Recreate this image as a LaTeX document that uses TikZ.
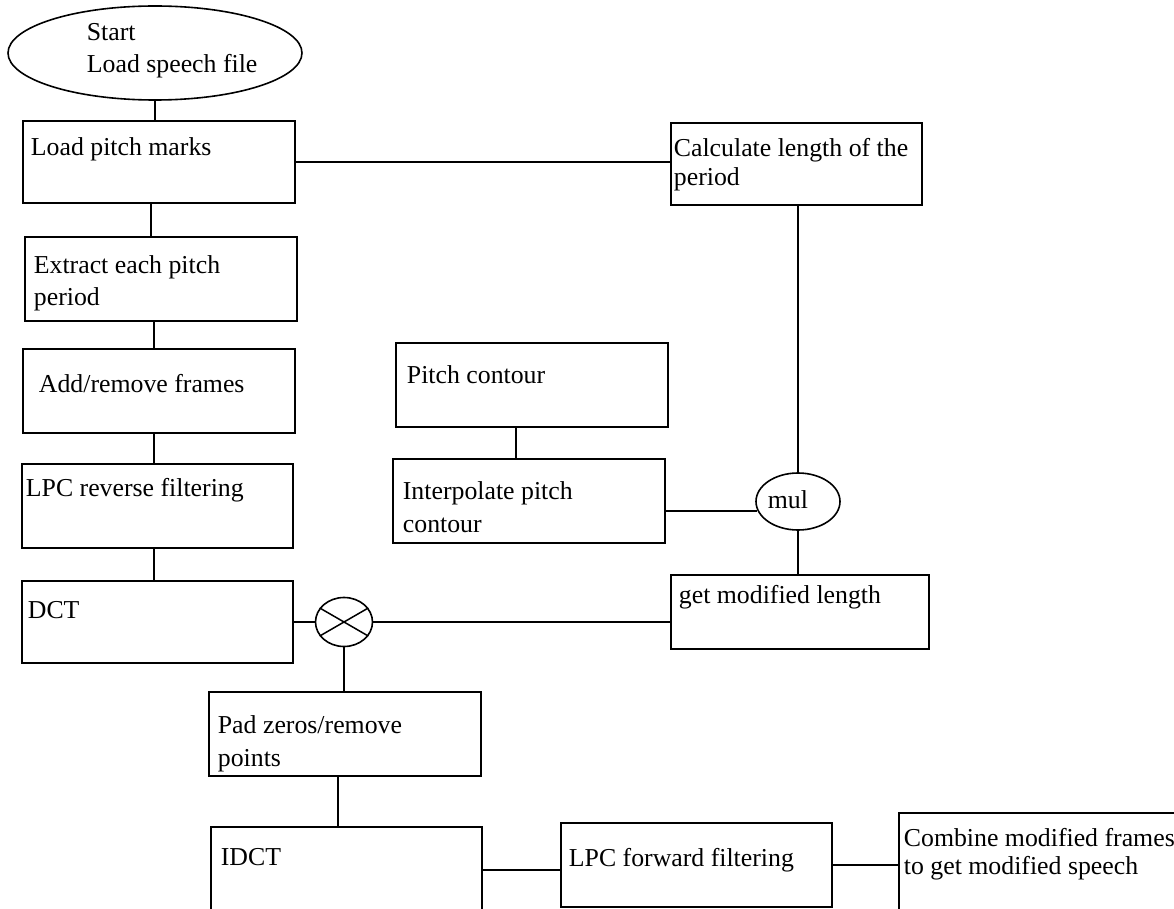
\documentclass[tikz,border=0pt]{standalone}
\usepackage{fontspec}
\setmainfont{Liberation Serif}
\usetikzlibrary{shapes.geometric}
\begin{document}
\begin{tikzpicture}[x=1pt,y=-1pt,line width=1.8pt,
  box/.style={draw, rectangle, inner sep=0pt, line width=1.8pt},
  oval/.style={draw, ellipse, inner sep=0pt, line width=1.6pt},
  lbl/.style={anchor=base west, inner sep=0pt, font=\fontsize{25.8}{28}\selectfont},
  conn/.style={draw, line width=1.8pt}]
\useasboundingbox (0,0) rectangle (1174,909);
\clip (0,0) rectangle (1174,909);
% ---- shapes
\node[oval, minimum width=294pt, minimum height=94pt] (start) at (155,53) {};
\node[box, minimum width=272pt, minimum height=82pt] (load) at (159,162) {};
\node[box, minimum width=251pt, minimum height=82pt] (calc) at (796.5,164) {};
\node[box, minimum width=272pt, minimum height=84pt] (extract) at (161,279) {};
\node[box, minimum width=272pt, minimum height=84pt] (add) at (159,391) {};
\node[box, minimum width=271pt, minimum height=84pt] (lpcrev) at (157.5,506) {};
\node[box, minimum width=271pt, minimum height=82pt] (dct) at (157.5,622) {};
\node[box, minimum width=272pt, minimum height=84pt] (pitch) at (532,385) {};
\node[box, minimum width=272pt, minimum height=84pt] (interp) at (529,501) {};
\node[oval, minimum width=84pt, minimum height=57pt] (mul) at (798,501.5) {};
\node[box, minimum width=258pt, minimum height=74pt] (getmod) at (800,612) {};
\node[oval, minimum width=57pt, minimum height=49pt] (xc) at (344,622) {};
\node[box, minimum width=272pt, minimum height=84pt] (pad) at (345,734) {};
\node[box, minimum width=271pt, minimum height=86pt] (idct) at (346.5,870) {};
\node[box, minimum width=271pt, minimum height=84pt] (lpcfwd) at (696.5,865) {};
\node[box, minimum width=280pt, minimum height=100pt] (combine) at (1039,863) {};
% cross inside the summing circle
\draw[line width=1.5pt] (xc.150) -- (xc.-30);
\draw[line width=1.5pt] (xc.210) -- (xc.30);
% ---- labels
\node[lbl] (tstart1) at (86,41) {Start};
\node[lbl] (tstart2) at (86,73) {Load speech file};
\node[lbl] (tload) at (30,156) {Load pitch marks};
\node[lbl] (tcalc1) at (673,157) {Calculate length of the};
\node[lbl] (tcalc2) at (673,186) {period};
\node[lbl] (text1) at (33,273) {Extract each pitch};
\node[lbl] (text2) at (33,305) {period};
\node[lbl] (tadd) at (38,392) {Add/remove frames};
\node[lbl] (tlpcrev) at (25,496) {LPC reverse filtering};
\node[lbl] (tdct) at (27,618) {DCT};
\node[lbl] (tpitch) at (406,383) {Pitch contour};
\node[lbl] (tinterp1) at (402,499) {Interpolate pitch};
\node[lbl] (tinterp2) at (402,532) {contour};
\node[lbl] (tmul) at (767,508) {mul};
\node[lbl] (tgetmod) at (678,603) {get modified length};
\node[lbl] (tpad1) at (217,733) {Pad zeros/remove};
\node[lbl] (tpad2) at (217,766) {points};
\node[lbl] (tidct) at (220,865) {IDCT};
\node[lbl] (tlpcfwd) at (568,866) {LPC forward filtering};
\node[lbl] (tcomb1) at (903,846) {Combine modified frames};
\node[lbl] (tcomb2) at (903,874) {to get modified speech};
% ---- connectors
\draw[conn] (start.south) -- (start.south |- load.north);
\draw[conn] (load.east) -- (load.east -| calc.west);
\draw[conn] (load.south -| 151,0) -- (extract.north -| 151,0);
\draw[conn] (extract.south -| 154,0) -- (add.north -| 154,0);
\draw[conn] (add.south -| 154,0) -- (lpcrev.north -| 154,0);
\draw[conn] (lpcrev.south -| 154,0) -- (dct.north -| 154,0);
\draw[conn] (dct.east) -- (dct.east -| xc.west);
\draw[conn] (xc.east) -- (xc.east -| getmod.west);
\draw[conn] (xc.south) -- (xc.south |- pad.north);
\draw[conn] (pad.south -| 338,0) -- (idct.north -| 338,0);
\draw[conn] (idct.east) -- (idct.east -| lpcfwd.west);
\draw[conn] (lpcfwd.east) -- (lpcfwd.east -| combine.west);
\draw[conn] (pitch.south -| 516,0) -- (interp.north -| 516,0);
\draw[conn] (interp.east |- mul.193) -- (mul.193);
\draw[conn] (mul.north |- calc.south) -- (mul.north);
\draw[conn] (mul.south) -- (mul.south |- getmod.north);
\end{tikzpicture}
\end{document}
